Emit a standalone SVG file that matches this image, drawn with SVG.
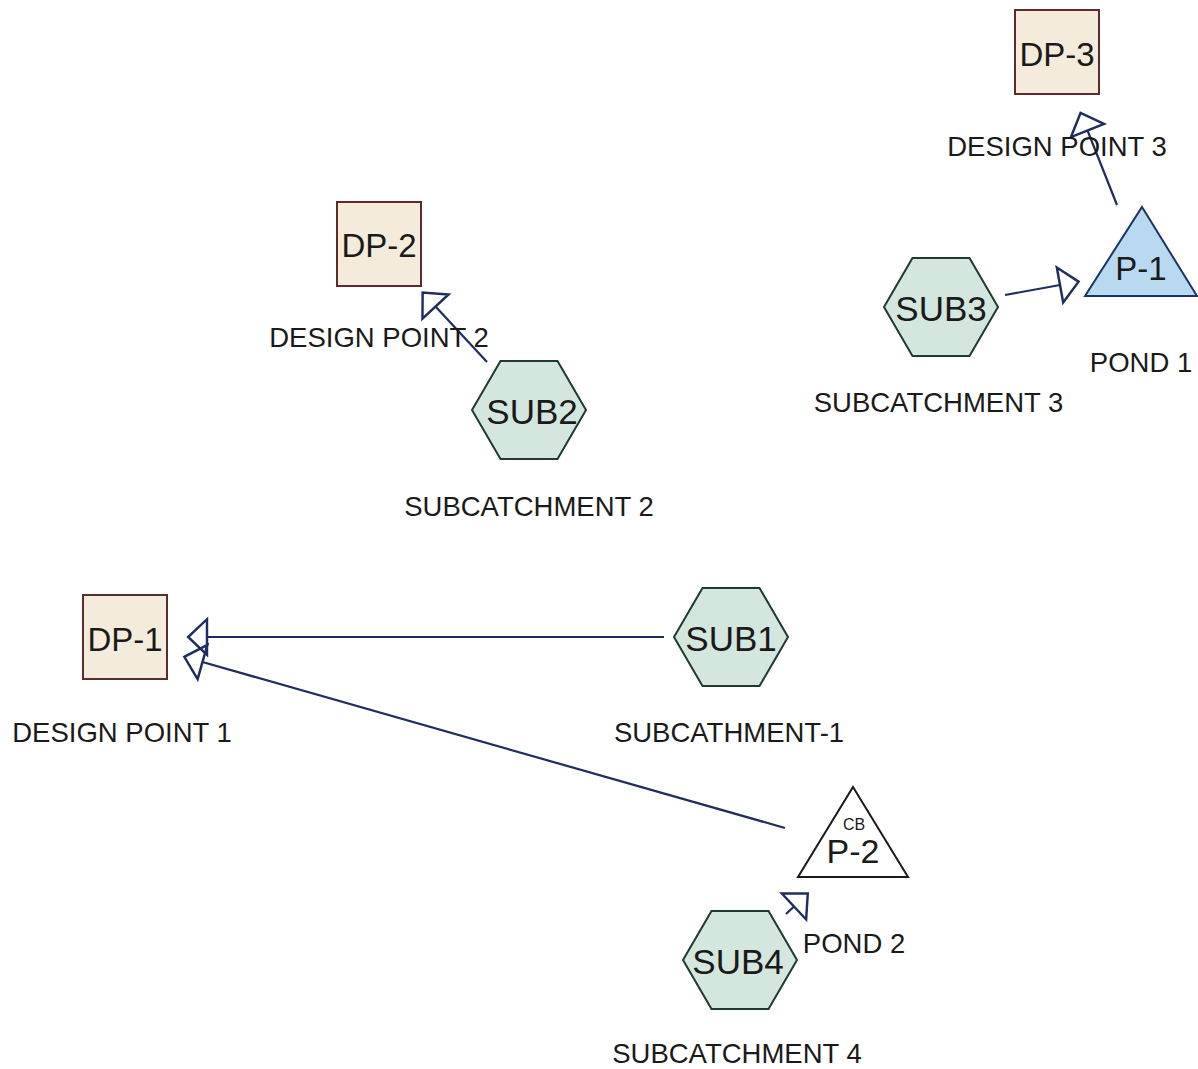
<svg xmlns="http://www.w3.org/2000/svg" width="1198" height="1069" viewBox="0 0 1198 1069">
<style>
.hex{fill:#d3e7df;stroke:#1f3a30;stroke-width:2}
.box{fill:#f5ebda;stroke:#5a2d2d;stroke-width:2}
.tri1{fill:#b9d9f1;stroke:#1a3565;stroke-width:2}
.tri2{fill:#ffffff;stroke:#1a1a1a;stroke-width:2}
.conn{fill:none;stroke:#1e2d5e;stroke-width:2.2;marker-end:url(#ah)}
.nt{font-family:"Liberation Sans",Arial,sans-serif;fill:#1a1a1a;text-anchor:middle}
.node{font-size:33px}
.sub{font-size:35px}
.lbl{font-size:27.5px}
</style>
<defs>
<marker id="ah" markerUnits="userSpaceOnUse" markerWidth="40" markerHeight="40" viewBox="-2 -18 22 36" refX="0" refY="0" orient="auto" overflow="visible">
<path d="M0,-16 L17,0 L0,16 Z" fill="none" stroke="#1e2d5e" stroke-width="2.2" stroke-linejoin="miter"/>
</marker>
</defs>
<rect width="1198" height="1069" fill="#ffffff"/>
<g id="connectors">
<path class="conn" d="M664,637 L207,637"/>
<path class="conn" d="M785,828 L202.5,662"/>
<path class="conn" d="M786,914 L794,906.5"/>
<path class="conn" d="M487,362 L435.5,306.5"/>
<path class="conn" d="M1005,295 L1060,285"/>
<path class="conn" d="M1117,205 L1087.5,130.5"/>
</g>
<g id="DP-3">
<rect class="box" x="1015" y="10" width="84" height="84"/>
<text class="nt node" x="1057" y="66">DP-3</text>
<text class="nt lbl" x="1057" y="156">DESIGN POINT 3</text>
</g>
<g id="DP-2">
<rect class="box" x="337" y="202" width="84" height="84"/>
<text class="nt node" x="379" y="257">DP-2</text>
<text class="nt lbl" x="379" y="347">DESIGN POINT 2</text>
</g>
<g id="DP-1">
<rect class="box" x="83" y="595" width="84" height="84"/>
<text class="nt node" x="125" y="651">DP-1</text>
<text class="nt lbl" x="122" y="742">DESIGN POINT 1</text>
</g>
<g id="SUB1">
<polygon class="hex" points="674,637 702.5,588 759.5,588 788,637 759.5,686 702.5,686"/>
<text class="nt sub" x="731" y="651">SUB1</text>
<text class="nt lbl" x="729" y="742">SUBCATHMENT-1</text>
</g>
<g id="SUB2">
<polygon class="hex" points="472,410 500.5,361 557.5,361 586,410 557.5,459 500.5,459"/>
<text class="nt sub" x="532" y="424">SUB2</text>
<text class="nt lbl" x="529" y="516">SUBCATCHMENT 2</text>
</g>
<g id="SUB3">
<polygon class="hex" points="884,307 912.5,258 969.5,258 998,307 969.5,356 912.5,356"/>
<text class="nt sub" x="941" y="321">SUB3</text>
<text class="nt lbl" x="938.5" y="412">SUBCATCHMENT 3</text>
</g>
<g id="SUB4">
<polygon class="hex" points="683,960 711.5,911 768.5,911 797,960 768.5,1009 711.5,1009"/>
<text class="nt sub" x="738" y="974">SUB4</text>
<text class="nt lbl" x="737" y="1063">SUBCATCHMENT 4</text>
</g>
<g id="P-1">
<polygon class="tri1" points="1142,207 1197,296 1085,296"/>
<text class="nt node" x="1141" y="280">P-1</text>
<text class="nt lbl" x="1141" y="372">POND 1</text>
</g>
<g id="P-2">
<polygon class="tri2" points="853,787 908,877 798,877"/>
<text class="nt" style="font-size:16px" x="854" y="830">CB</text>
<text class="nt" style="font-size:34px" x="853" y="863">P-2</text>
<text class="nt lbl" x="854" y="953">POND 2</text>
</g>
</svg>
